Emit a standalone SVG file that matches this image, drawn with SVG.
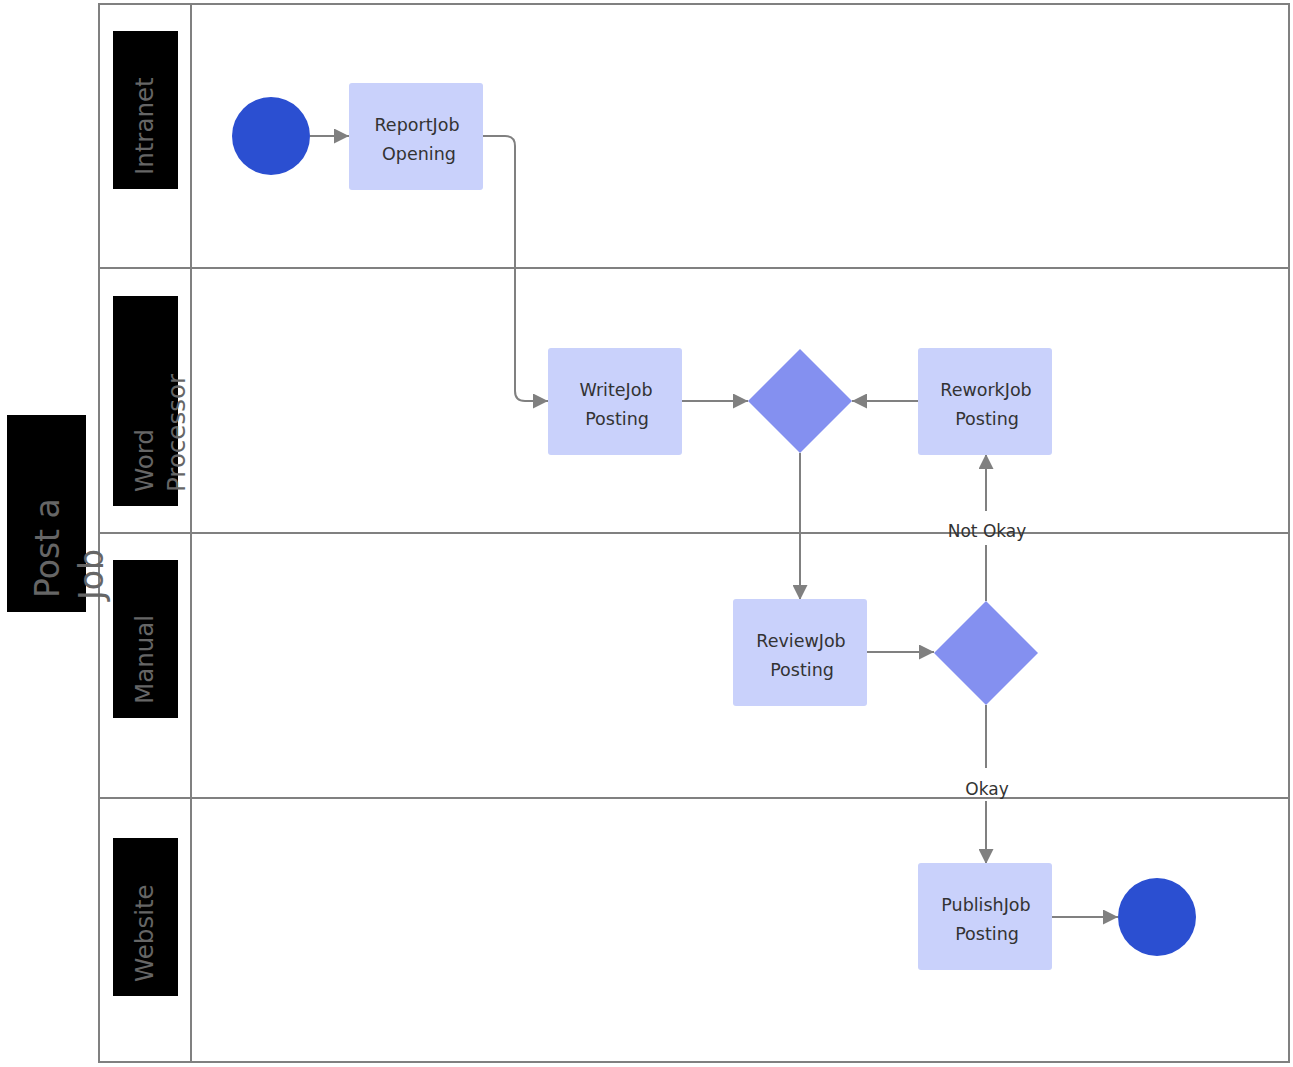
<svg xmlns="http://www.w3.org/2000/svg" width="1293" height="1067" viewBox="0 0 1293 1067">
<style>
.lane{fill:none;stroke:#808080;stroke-width:2}
.hdr{fill:#000}
.hdrt{font-family:"DejaVu Sans",sans-serif;font-size:24.5px;fill:#666}
.pool{font-family:"DejaVu Sans",sans-serif;font-size:33px;fill:#666}
.task{fill:#c9d1fb}
.tt{font-family:"DejaVu Sans",sans-serif;font-size:17.5px;fill:#333;text-anchor:middle}
.gw{fill:#8490f0}
.ev{fill:#2b4fd1}
.edge{fill:none;stroke:#808080;stroke-width:2}
.el{font-family:"DejaVu Sans",sans-serif;font-size:17px;fill:#333;text-anchor:middle}
</style>
<defs>
<marker id="arr" markerUnits="userSpaceOnUse" markerWidth="15" markerHeight="15" refX="15" refY="7.5" orient="auto">
<path d="M0,0 L15,7.5 L0,15 z" fill="#808080"/>
</marker>
</defs>
<rect width="1293" height="1067" fill="#fff"/>
<g id="pool">
<rect x="99" y="4" width="1190" height="1058" class="lane"/>
<line x1="191" y1="4" x2="191" y2="1062" class="lane"/>
<line x1="99" y1="268" x2="1289" y2="268" class="lane"/>
<line x1="99" y1="533" x2="1289" y2="533" class="lane"/>
<line x1="99" y1="798" x2="1289" y2="798" class="lane"/>
<rect x="7" y="415" width="79" height="197" class="hdr"/>
<text class="pool" transform="translate(59,598) rotate(-90)">Post a</text>
<text class="pool" transform="translate(103,600) rotate(-90)">Job</text>
</g>
<g id="lane-intranet">
<rect x="113" y="31" width="65" height="158" class="hdr"/>
<text class="hdrt" transform="translate(153,175) rotate(-90)">Intranet</text>
</g>
<g id="lane-word">
<rect x="113" y="296" width="65" height="210" class="hdr"/>
<text class="hdrt" transform="translate(153,492) rotate(-90)">Word</text>
<text class="hdrt" transform="translate(185,492) rotate(-90)">Processor</text>
</g>
<g id="lane-manual">
<rect x="113" y="560" width="65" height="158" class="hdr"/>
<text class="hdrt" transform="translate(153,704) rotate(-90)">Manual</text>
</g>
<g id="lane-website">
<rect x="113" y="838" width="65" height="158" class="hdr"/>
<text class="hdrt" transform="translate(153,982) rotate(-90)">Website</text>
</g>
<g id="connectors">
<line x1="310" y1="136" x2="349" y2="136" class="edge" marker-end="url(#arr)"/>
<path d="M483,136 H505 Q515,136 515,146 V391 Q515,401 525,401 H548" class="edge" marker-end="url(#arr)"/>
<line x1="681" y1="401" x2="748" y2="401" class="edge" marker-end="url(#arr)"/>
<line x1="918" y1="401" x2="852" y2="401" class="edge" marker-end="url(#arr)"/>
<line x1="800" y1="453" x2="800" y2="600" class="edge" marker-end="url(#arr)"/>
<line x1="866" y1="652" x2="934" y2="652" class="edge" marker-end="url(#arr)"/>
<line x1="986" y1="601" x2="986" y2="545" class="edge"/>
<line x1="986" y1="511" x2="986" y2="454" class="edge" marker-end="url(#arr)"/>
<text class="el" x="987" y="537">Not Okay</text>
<line x1="986" y1="705" x2="986" y2="768" class="edge"/>
<line x1="986" y1="801" x2="986" y2="864" class="edge" marker-end="url(#arr)"/>
<text class="el" x="987" y="795">Okay</text>
<line x1="1051" y1="917" x2="1118" y2="917" class="edge" marker-end="url(#arr)"/>
</g>
<g id="start">
<circle cx="271" cy="136" r="39" class="ev"/>
</g>
<g id="report">
<rect x="349" y="83" width="134" height="107" rx="3" class="task"/>
<text class="tt" x="417" y="131">ReportJob</text>
<text class="tt" x="419" y="160">Opening</text>
</g>
<g id="write">
<rect x="548" y="348" width="134" height="107" rx="3" class="task"/>
<text class="tt" x="616" y="396">WriteJob</text>
<text class="tt" x="617" y="425">Posting</text>
</g>
<g id="gateway1">
<polygon points="800,349 852,401 800,453 748,401" class="gw"/>
</g>
<g id="rework">
<rect x="918" y="348" width="134" height="107" rx="3" class="task"/>
<text class="tt" x="986" y="396">ReworkJob</text>
<text class="tt" x="987" y="425">Posting</text>
</g>
<g id="review">
<rect x="733" y="599" width="134" height="107" rx="3" class="task"/>
<text class="tt" x="801" y="647">ReviewJob</text>
<text class="tt" x="802" y="676">Posting</text>
</g>
<g id="gateway2">
<polygon points="986,601 1038,653 986,705 934,653" class="gw"/>
</g>
<g id="publish">
<rect x="918" y="863" width="134" height="107" rx="3" class="task"/>
<text class="tt" x="986" y="911">PublishJob</text>
<text class="tt" x="987" y="940">Posting</text>
</g>
<g id="end">
<circle cx="1157" cy="917" r="39" class="ev"/>
</g>
</svg>
